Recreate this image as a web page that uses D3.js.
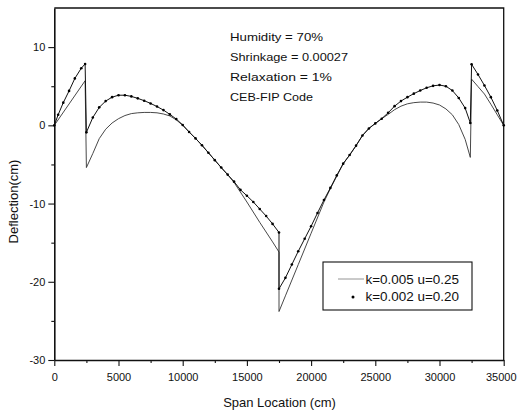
<!DOCTYPE html>
<html><head><meta charset="utf-8">
<script src="https://cdn.jsdelivr.net/npm/d3@7"></script>
<style>
body{margin:0;background:#fff}
svg text{font-family:"Liberation Sans",Arial,Helvetica,sans-serif;fill:#111}
</style>
</head><body>
<svg id="chart" width="517" height="414"></svg>
<script>
// ---------- data ----------
const xTickValues = [0, 5000, 10000, 15000, 20000, 25000, 30000, 35000];
const xTickLabels = ["0", "5000", "10000", "15000", "20000", "25000", "30000", "35000"];
const xMinorTicks = [2500, 7500, 12500, 17500, 22500, 27500, 32500];
const yTickValues = [-30, -20, -10, 0, 10];
const yTickLabels = ["-30", "-20", "-10", "0", "10"];
const yMinorTicks = [-25, -15, -5, 5];

const seriesNames = ["k=0.005  u=0.25", "k=0.002  u=0.20"];
const notes = ["Humidity  = 70%", "Shrinkage = 0.00027", "Relaxation = 1%", "CEB-FIP Code"];

// series A: k=0.005 u=0.25 (thin line)
const spanA = [0,1200,2400,2500,3000,3500,4000,4500,5000,5500,6000,6500,7000,7500,8000,8500,9000,9500,10000,
  10500,11000,11500,12000,12500,13000,13500,14000,15000,16000,17000,17500,17500,18000,19000,20000,21000,
  21500,22000,22500,23000,23500,24000,24500,25000,25500,26000,26500,27000,27500,28000,28500,29000,29500,
  30000,30500,31000,31500,32000,32400,32500,33000,33500,34000,34500,35000];
const deflA = [0,2.85,5.7,-5.4,-3.6,-1.7,-0.5,0.3,0.85,1.25,1.5,1.6,1.65,1.65,1.6,1.45,1.2,0.7,0.0,
  -0.85,-1.67,-2.55,-3.5,-4.45,-5.4,-6.3,-7.3,-9.8,-12.4,-14.9,-16.2,-23.8,-21.8,-17.8,-13.8,-9.8,
  -8.1,-6.5,-4.9,-3.8,-2.6,-1.3,-0.4,0.25,0.85,1.4,2.0,2.45,2.75,2.9,2.97,2.97,2.85,
  2.6,2.1,1.35,0.1,-1.8,-4.1,5.9,4.95,4.0,2.7,1.35,0];

// series B: k=0.002 u=0.20 (line with dots)
const spanB = [0,300,700,1150,1600,2100,2400,2500,3000,3500,4000,4500,5000,5500,6000,6500,7000,7500,8000,8500,9000,9500,10000,
  10500,11000,11500,12000,12500,13000,13500,14000,14500,15000,15500,16000,16500,17000,17500,17500,
  18000,18500,19000,19500,20000,20500,21000,21500,22000,22500,23000,23500,24000,24500,25000,25500,
  26000,26500,27000,27500,28000,28500,29000,29500,30000,30500,31000,31500,32000,32400,
  32500,33000,33500,34000,34500,35000];
const deflB = [0,1.35,2.9,4.4,6.0,7.3,7.85,-0.9,1.0,2.3,3.1,3.6,3.85,3.85,3.7,3.45,3.15,2.8,2.4,1.95,1.4,0.8,0.05,
  -0.85,-1.67,-2.55,-3.5,-4.45,-5.4,-6.3,-7.2,-8.25,-9.0,-9.8,-10.7,-11.6,-12.6,-13.7,-20.9,
  -19.5,-17.8,-16.1,-14.5,-12.9,-11.2,-9.55,-8.0,-6.4,-4.9,-3.8,-2.6,-1.3,-0.4,0.25,0.85,
  1.6,2.45,3.1,3.6,4.05,4.45,4.8,5.05,5.15,5.0,4.45,3.5,2.2,0.3,
  7.8,6.5,5.1,3.6,1.9,0];

// ---------- chart ----------
const svg = d3.select("#chart");
const L = 54.3, R = 503.7, T = 8, B = 360;
const x = d3.scaleLinear().domain([0, 35000]).range([L, R]);
const y = d3.scaleLinear().domain([-30, 15]).range([B, T]);

// frame (top & right)
svg.append("path")
  .attr("d", `M${L},${T}H${R}V${B}`)
  .attr("fill", "none").attr("stroke", "#111").attr("stroke-width", 1.3);

// x axis
const xAxis = svg.append("g").attr("transform", `translate(0,${B})`)
  .call(d3.axisBottom(x).tickValues(xTickValues).tickFormat((d, i) => xTickLabels[i])
    .tickSize(6).tickSizeOuter(0).tickPadding(4));
svg.append("g").attr("transform", `translate(0,${B})`)
  .call(d3.axisBottom(x).tickValues(xMinorTicks).tickFormat("").tickSize(3).tickSizeOuter(0))
  .select(".domain").remove();

// y axis
const yAxis = svg.append("g").attr("transform", `translate(${L},0)`)
  .call(d3.axisLeft(y).tickValues(yTickValues).tickFormat((d, i) => yTickLabels[i])
    .tickSize(6).tickSizeOuter(0).tickPadding(3));
svg.append("g").attr("transform", `translate(${L},0)`)
  .call(d3.axisLeft(y).tickValues(yMinorTicks).tickFormat("").tickSize(3).tickSizeOuter(0))
  .select(".domain").remove();

svg.selectAll(".domain").attr("stroke", "#111").attr("stroke-width", 1.6);
svg.selectAll(".tick line").attr("stroke", "#111").attr("stroke-width", 1.1);
svg.selectAll(".tick text").attr("font-size", 11).attr("fill", "#111")
  .style("font-family", '"Liberation Sans",Arial,sans-serif');
xAxis.selectAll(".tick text").attr("dy", "1em");
// keep the last x label inside the picture
xAxis.selectAll(".tick text").filter(d => d === 35000)
  .attr("text-anchor", "end").attr("x", 516 - R);

// axis titles
svg.append("text").attr("x", 279.5).attr("y", 407).attr("text-anchor", "middle")
  .attr("font-size", 13).text("Span Location (cm)");
svg.append("text").attr("transform", "translate(18,201.5) rotate(-90)")
  .attr("text-anchor", "middle").attr("font-size", 13).text("Deflection(cm)");

// lines
const ptsA = spanA.map((s, i) => [s, deflA[i]]);
const ptsB = spanB.map((s, i) => [s, deflB[i]]);
const line = d3.line().x(d => x(d[0])).y(d => y(d[1]));

svg.append("path").datum(ptsA).attr("d", line)
  .attr("fill", "none").attr("stroke", "#333").attr("stroke-width", 0.9);
svg.append("path").datum(ptsB).attr("d", line)
  .attr("fill", "none").attr("stroke", "#111").attr("stroke-width", 1);
svg.append("g").selectAll("circle").data(ptsB).join("circle")
  .attr("cx", d => x(d[0])).attr("cy", d => y(d[1])).attr("r", 1.3).attr("fill", "#000");

// annotations
const noteWidths = [93, 118, 102, 83];
svg.append("g").selectAll("text").data(notes).join("text")
  .attr("x", 230).attr("y", (d, i) => 40.7 + i * 20)
  .attr("font-size", 11.5)
  .attr("textLength", (d, i) => noteWidths[i]).attr("lengthAdjust", "spacingAndGlyphs")
  .text(d => d);

// legend
const lg = svg.append("g");
lg.append("rect").attr("x", 323).attr("y", 262).attr("width", 149).attr("height", 48)
  .attr("fill", "#fff").attr("stroke", "#111").attr("stroke-width", 1.1);
lg.append("line").attr("x1", 338).attr("x2", 364).attr("y1", 279).attr("y2", 279)
  .attr("stroke", "#888").attr("stroke-width", 0.9);
lg.append("circle").attr("cx", 353).attr("cy", 297).attr("r", 1.5).attr("fill", "#000");
lg.selectAll("text.lt").data(seriesNames).join("text").attr("class", "lt")
  .attr("x", 365.5).attr("y", (d, i) => 283.5 + i * 17.7)
  .attr("font-size", 12)
  .attr("textLength", 93.5).attr("lengthAdjust", "spacingAndGlyphs")
  .text(d => d);
</script>
</body></html>
